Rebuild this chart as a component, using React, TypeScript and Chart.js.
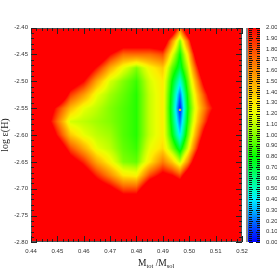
import { useEffect, useRef } from 'react';
import { Chart, registerables } from 'chart.js';

Chart.register(...registerables);

// x nodes: M_tot / M_sol
const massNodes = [0.44, 0.445, 0.45, 0.455, 0.46, 0.465, 0.47, 0.475, 0.48, 0.485, 0.49, 0.4935, 0.4965, 0.4995, 0.503, 0.507, 0.512, 0.52];
// y nodes: log eps(H)
const logEpsNodes = [-2.4, -2.425, -2.45, -2.475, -2.5, -2.525, -2.55, -2.575, -2.6, -2.625, -2.65, -2.675, -2.7, -2.725, -2.75, -2.8];
// chi-square-like values per y node (rows) and x node (columns)
const chiRow00 = [3, 3, 3, 3, 3, 3, 3, 3, 3, 3, 3, 2.6, 1.7, 2.6, 3, 3, 3, 3];
const chiRow01 = [3, 3, 3, 3, 3, 3, 2.6, 2.3, 2.3, 2.3, 2.4, 1.6, 1.0, 1.7, 2.8, 3, 3, 3];
const chiRow02 = [3, 3, 3, 3, 3, 2.5, 2.0, 1.7, 1.7, 1.7, 1.8, 1.2, 0.8, 1.3, 2.3, 3, 3, 3];
const chiRow03 = [3, 3, 3, 3, 2.4, 1.95, 1.5, 1.2, 1.0, 1.25, 1.4, 0.95, 0.7, 1.1, 1.9, 2.8, 3, 3];
const chiRow04 = [3, 3, 3, 2.3, 2.0, 1.5, 1.15, 1.0, 0.88, 1.15, 1.3, 0.8, 0.45, 0.95, 1.6, 2.4, 3, 3];
const chiRow05 = [3, 3, 2.6, 1.85, 1.55, 1.2, 1.05, 0.95, 0.85, 1.12, 1.28, 0.72, 0.2, 0.85, 1.4, 2.0, 2.7, 3];
const chiRow06 = [3, 2.4, 1.9, 1.45, 1.2, 1.1, 1.0, 0.92, 0.85, 1.12, 1.28, 0.68, 0.05, 0.8, 1.3, 1.8, 2.3, 3];
const chiRow07 = [3, 2.3, 1.7, 1.15, 1.1, 1.05, 1.0, 0.92, 0.85, 1.12, 1.28, 0.72, 0.2, 0.85, 1.4, 2.0, 2.7, 3];
const chiRow08 = [3, 2.6, 1.95, 1.4, 1.2, 1.1, 1.05, 0.92, 0.85, 1.12, 1.28, 0.8, 0.38, 0.95, 1.6, 2.4, 3, 3];
const chiRow09 = [3, 3, 2.4, 1.8, 1.5, 1.2, 1.1, 0.95, 0.88, 1.2, 1.35, 1.0, 0.7, 1.15, 1.9, 2.8, 3, 3];
const chiRow10 = [3, 3, 3, 2.2, 1.9, 1.5, 1.25, 1.0, 0.95, 1.3, 1.65, 1.4, 1.1, 1.6, 2.4, 3, 3, 3];
const chiRow11 = [3, 3, 3, 3, 2.3, 1.9, 1.6, 1.3, 1.25, 1.8, 2.1, 2.0, 1.8, 2.3, 3, 3, 3, 3];
const chiRow12 = [3, 3, 3, 3, 3, 2.3, 2.1, 1.8, 1.8, 2.4, 2.6, 2.6, 2.4, 3, 3, 3, 3, 3];
const chiRow13 = [3, 3, 3, 3, 3, 3, 2.6, 2.3, 2.3, 3, 3, 3, 3, 3, 3, 3, 3, 3];
const chiRow14 = [3, 3, 3, 3, 3, 3, 3, 2.8, 2.8, 3, 3, 3, 3, 3, 3, 3, 3, 3];
const chiRow15 = [3, 3, 3, 3, 3, 3, 3, 3, 3, 3, 3, 3, 3, 3, 3, 3, 3, 3];
const chiGrid = [chiRow00, chiRow01, chiRow02, chiRow03, chiRow04, chiRow05, chiRow06, chiRow07, chiRow08, chiRow09, chiRow10, chiRow11, chiRow12, chiRow13, chiRow14, chiRow15];

const bestFit = [{ x: 0.4965, y: -2.553 }];

const xRange = [0.44, 0.52];
const yRange = [-2.8, -2.4];
const cbRange = [0, 2];
const xMajor = 0.01, xMinor = 0.002;
const yMajor = 0.05, yMinor = 0.01;
const cbMajor = 0.1, cbMinor = 0.02;

const cmapStops: [number, number[]][] = [
  [0.0, [0, 0, 255]],
  [0.1, [0, 50, 255]],
  [0.2, [0, 110, 255]],
  [0.3, [0, 180, 255]],
  [0.4, [0, 240, 255]],
  [0.5, [0, 255, 190]],
  [0.6, [0, 255, 130]],
  [0.7, [0, 255, 60]],
  [0.8, [0, 255, 0]],
  [0.9, [70, 255, 0]],
  [1.0, [130, 255, 0]],
  [1.1, [190, 255, 0]],
  [1.2, [235, 255, 0]],
  [1.3, [255, 235, 0]],
  [1.4, [255, 200, 0]],
  [1.5, [255, 170, 0]],
  [1.6, [255, 140, 0]],
  [1.7, [255, 110, 0]],
  [1.8, [255, 75, 0]],
  [1.9, [255, 40, 0]],
  [2.0, [255, 0, 0]],
];

function cmap(v: number): number[] {
  if (v <= cmapStops[0][0]) return cmapStops[0][1];
  for (let i = 1; i < cmapStops.length; i++) {
    if (v <= cmapStops[i][0]) {
      const [a, ca] = cmapStops[i - 1];
      const [b, cb] = cmapStops[i];
      const t = (v - a) / (b - a);
      return [0, 1, 2].map((k) => Math.round(ca[k] + (cb[k] - ca[k]) * t));
    }
  }
  return cmapStops[cmapStops.length - 1][1];
}

function sampleGrid(xv: number, yv: number): number {
  const XS = massNodes, YS = logEpsNodes, Z = chiGrid;
  let i = 0;
  while (i < XS.length - 2 && xv > XS[i + 1]) i++;
  let j = 0;
  while (j < YS.length - 2 && yv < YS[j + 1]) j++;
  const tx = Math.min(1, Math.max(0, (xv - XS[i]) / (XS[i + 1] - XS[i])));
  const ty = Math.min(1, Math.max(0, (yv - YS[j]) / (YS[j + 1] - YS[j])));
  const a = Z[j][i] * (1 - tx) + Z[j][i + 1] * tx;
  const b = Z[j + 1][i] * (1 - tx) + Z[j + 1][i + 1] * tx;
  return a * (1 - ty) + b * ty;
}

const heatmapPlugin = {
  id: 'heatmap',
  beforeDatasetsDraw(chart: any) {
    const { ctx, chartArea: a, scales } = chart;
    const xs = scales.x, ys = scales.y;
    const L = Math.round(a.left), T = Math.round(a.top);
    const w = Math.round(a.right) - L, h = Math.round(a.bottom) - T;
    const off = document.createElement('canvas');
    off.width = w; off.height = h;
    const octx = off.getContext('2d')!;
    const img = octx.createImageData(w, h);
    const xv = [] as number[];
    for (let i = 0; i < w; i++) xv.push(xs.getValueForPixel(L + i + 0.5));
    for (let j = 0; j < h; j++) {
      const yv = ys.getValueForPixel(T + j + 0.5);
      for (let i = 0; i < w; i++) {
        const c = cmap(sampleGrid(xv[i], yv));
        const p = (j * w + i) * 4;
        img.data[p] = c[0]; img.data[p + 1] = c[1]; img.data[p + 2] = c[2]; img.data[p + 3] = 255;
      }
    }
    octx.putImageData(img, 0, 0);
    ctx.save();
    ctx.drawImage(off, L, T);
    // frame
    ctx.strokeStyle = '#555';
    ctx.lineWidth = 1;
    ctx.strokeRect(L + 0.5, T + 0.5, w - 1, h - 1);
    // inward ticks
    ctx.strokeStyle = '#222';
    ctx.beginPath();
    const nx = Math.round((xRange[1] - xRange[0]) / xMinor);
    const perX = Math.round(xMajor / xMinor);
    for (let k = 0; k <= nx; k++) {
      const px = Math.round(xs.getPixelForValue(xRange[0] + k * xMinor)) + 0.5;
      const len = k % perX === 0 ? 6 : 3;
      ctx.moveTo(px, T); ctx.lineTo(px, T + len);
      ctx.moveTo(px, T + h); ctx.lineTo(px, T + h - len);
    }
    const ny = Math.round((yRange[1] - yRange[0]) / yMinor);
    const perY = Math.round(yMajor / yMinor);
    for (let k = 0; k <= ny; k++) {
      const py = Math.round(ys.getPixelForValue(yRange[0] + k * yMinor)) + 0.5;
      const len = k % perY === 0 ? 6 : 3;
      ctx.moveTo(L, py); ctx.lineTo(L + len, py);
      ctx.moveTo(L + w, py); ctx.lineTo(L + w - len, py);
    }
    ctx.stroke();
    ctx.restore();
  },
  afterDraw(chart: any) {
    const { ctx, chartArea: a, scales } = chart;
    const cb = scales.cb;
    const x0 = Math.round(a.right) + 6, cw = 12;
    ctx.save();
    const top = Math.round(cb.getPixelForValue(cbRange[1]));
    const bot = Math.round(cb.getPixelForValue(cbRange[0]));
    for (let py = top; py < bot; py++) {
      const c = cmap(cb.getValueForPixel(py + 0.5));
      ctx.fillStyle = `rgb(${c[0]},${c[1]},${c[2]})`;
      ctx.fillRect(x0, py, cw, 1);
    }
    ctx.fillStyle = '#888';
    ctx.fillRect(x0 - 2, top, 2, bot - top);
    ctx.strokeStyle = '#111';
    ctx.lineWidth = 1;
    ctx.beginPath();
    const n = Math.round((cbRange[1] - cbRange[0]) / cbMinor);
    const per = Math.round(cbMajor / cbMinor);
    for (let k = 0; k <= n; k++) {
      const py = Math.round(cb.getPixelForValue(cbRange[0] + k * cbMinor)) + 0.5;
      const len = k % per === 0 ? 4 : 3;
      ctx.moveTo(x0 + 1, py); ctx.lineTo(x0 + 1 + len, py);
      ctx.moveTo(x0 + cw, py); ctx.lineTo(x0 + cw - len, py);
    }
    ctx.stroke();

    // axis titles
    ctx.fillStyle = '#222';
    ctx.save();
    ctx.translate(5, (a.top + a.bottom) / 2);
    ctx.rotate(-Math.PI / 2);
    ctx.font = '10px "Liberation Serif"';
    ctx.textAlign = 'center';
    ctx.textBaseline = 'middle';
    ctx.fillText('log ε(H)', 0, 0);
    ctx.restore();

    const base = 266;
    let tx = 138;
    ctx.textBaseline = 'alphabetic';
    ctx.textAlign = 'left';
    const big = '9.5px "Liberation Serif"', small = '6.5px "Liberation Serif"';
    const parts: [string, string, number][] = [['M', big, 0], ['tot', small, 2], [' /', big, 0], ['M', big, 0], ['sol', small, 2]];
    for (const [s, f, dy] of parts) {
      ctx.font = f;
      ctx.fillText(s, tx, base + dy);
      tx += ctx.measureText(s).width;
    }
    ctx.restore();
  },
};

const tickFont = { family: '"Liberation Sans"', size: 6 };
const tickColor = '#333';

export default function App() {
  const ref = useRef<HTMLCanvasElement>(null);
  useEffect(() => {
    const chart = new Chart(ref.current!, {
      type: 'scatter',
      data: {
        datasets: [
          {
            data: bestFit,
            pointStyle: 'rect',
            pointRadius: 1.6,
            borderWidth: 0,
            backgroundColor: '#d6b43c',
          },
        ],
      },
      options: {
        responsive: false,
        animation: false,
        events: [],
        layout: { padding: { top: 2, left: 0, right: 0, bottom: 0 } },
        plugins: { legend: { display: false }, tooltip: { enabled: false } },
        scales: {
          x: {
            type: 'linear',
            position: 'bottom',
            min: xRange[0],
            max: xRange[1],
            grid: { display: false, drawTicks: false },
            border: { display: false },
            ticks: {
              stepSize: xMajor,
              autoSkip: false,
              maxRotation: 0,
              padding: 5,
              font: tickFont,
              color: tickColor,
              callback: (v: any) => Number(v).toFixed(2),
            },
            afterFit: (s: any) => { s.height = 27; },
          },
          y: {
            type: 'linear',
            position: 'left',
            min: yRange[0],
            max: yRange[1],
            grid: { display: false, drawTicks: false },
            border: { display: false },
            ticks: {
              stepSize: yMajor,
              autoSkip: false,
              padding: 3,
              font: tickFont,
              color: tickColor,
              callback: (v: any) => Number(v).toFixed(2),
            },
            afterFit: (s: any) => { s.width = 31; },
          },
          cb: {
            type: 'linear',
            position: 'right',
            axis: 'y',
            min: cbRange[0],
            max: cbRange[1],
            grid: { display: false, drawTicks: false },
            border: { display: false },
            ticks: {
              stepSize: cbMajor,
              autoSkip: false,
              padding: 24,
              font: tickFont,
              color: tickColor,
              callback: (v: any) => Number(v).toFixed(2),
            },
            afterFit: (s: any) => { s.width = 35; },
          },
        },
      } as any,
      plugins: [heatmapPlugin],
    });
    return () => chart.destroy();
  }, []);
  return (
    <div style={{ position: 'fixed', left: 0, top: 0, width: 277, height: 270, background: '#fff' }}>
      <canvas ref={ref} width={277} height={270} style={{ display: 'block' }} />
    </div>
  );
}
